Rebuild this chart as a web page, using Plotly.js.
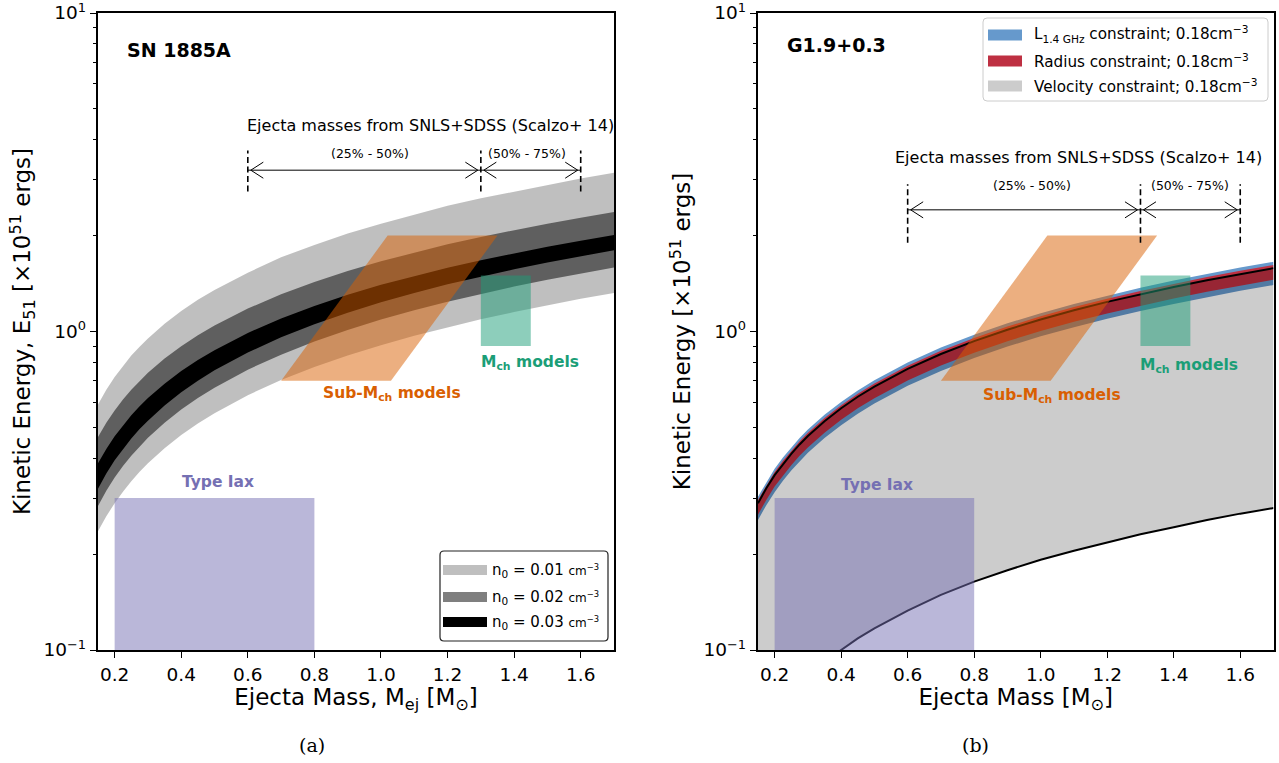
<!DOCTYPE html>
<html><head><meta charset="utf-8">
<script src="https://cdn.plot.ly/plotly-3.0.1.min.js"></script>
<style>html,body{margin:0;padding:0;background:#fff}</style>
</head><body>
<div id="chart" style="width:1279px;height:763px"></div>
<script>
// ---------- data ----------
const mass = [0.15,0.175,0.2,0.225,0.25,0.275,0.3,0.35,0.4,0.45,0.5,0.6,0.7,0.8,0.9,1.0,1.1,1.2,1.3,1.4,1.5,1.6,1.7];

// (a) SN 1885A energy bands for three ambient densities
const n001Upper = [0.59,0.656,0.72,0.780,0.84,0.896,0.95,1.058,1.16,1.258,1.35,1.53,1.71,1.87,2.03,2.18,2.33,2.48,2.62,2.75,2.89,3.02,3.15];
const n001Lower = [0.236,0.263,0.289,0.314,0.339,0.3625,0.386,0.430,0.473,0.514,0.554,0.631,0.704,0.774,0.841,0.906,0.970,1.032,1.092,1.151,1.209,1.266,1.321];
const n002Upper = [0.466,0.517,0.565,0.612,0.656,0.700,0.742,0.823,0.899,0.973,1.044,1.180,1.309,1.431,1.548,1.662,1.771,1.878,1.981,2.082,2.181,2.277,2.371];
const n002Lower = [0.283,0.316,0.348,0.378,0.407,0.436,0.464,0.517,0.569,0.618,0.666,0.759,0.846,0.930,1.011,1.090,1.166,1.240,1.313,1.384,1.453,1.521,1.589];
const n003Upper = [0.386,0.428,0.469,0.508,0.546,0.582,0.618,0.686,0.751,0.814,0.874,0.990,1.099,1.203,1.304,1.401,1.494,1.586,1.674,1.760,1.845,1.928,2.009];
const n003Lower = [0.321,0.358,0.394,0.428,0.461,0.494,0.525,0.586,0.644,0.701,0.755,0.859,0.959,1.054,1.146,1.235,1.322,1.406,1.488,1.568,1.647,1.724,1.800];

// (b) G1.9+0.3 constraints
const fitLine  = [0.289,0.322,0.354,0.384,0.413,0.442,0.470,0.523,0.574,0.624,0.671,0.763,0.850,0.933,1.013,1.091,1.166,1.239,1.310,1.380,1.449,1.516,1.581];
const lumUpper = [0.303,0.337,0.371,0.402,0.432,0.463,0.492,0.548,0.601,0.653,0.703,0.799,0.890,0.977,1.061,1.142,1.221,1.297,1.372,1.445,1.517,1.587,1.655];
const lumLower = [0.256,0.285,0.313,0.340,0.366,0.391,0.416,0.463,0.508,0.552,0.594,0.675,0.752,0.826,0.897,0.966,1.032,1.097,1.159,1.221,1.282,1.342,1.399];
const radUpper = [0.296,0.329,0.362,0.393,0.423,0.452,0.481,0.535,0.587,0.638,0.687,0.781,0.870,0.954,1.036,1.116,1.193,1.268,1.340,1.412,1.482,1.551,1.617];
const radLower = [0.266,0.296,0.326,0.353,0.380,0.407,0.432,0.481,0.528,0.574,0.617,0.702,0.782,0.858,0.932,1.004,1.073,1.140,1.205,1.270,1.333,1.395,1.455];
const velUpper = fitLine;
const velLower = [0.0498,0.0556,0.0611,0.0665,0.0716,0.0766,0.0815,0.0910,0.100,0.1087,0.117,0.133,0.149,0.164,0.178,0.192,0.205,0.218,0.231,0.243,0.256,0.268,0.279];

// model regions
const subMchMass   = [0.70,1.03,1.35,1.02,0.70];
const subMchEnergy = [0.70,0.70,2.00,2.00,0.70];
const mchMass      = [1.30,1.45,1.45,1.30,1.30];
const mchEnergy    = [0.90,0.90,1.50,1.50,0.90];
const iaxMass      = [0.20,0.80,0.80,0.20,0.20];
const iaxEnergy    = [0.05,0.05,0.30,0.30,0.05];

// Scalzo+14 ejecta mass quartiles
const scalzoMass = [0.6,1.3,1.6];
const scalzoLabels = ['(25% - 50%)','(50% - 75%)'];

const xTicks = [0.2,0.4,0.6,0.8,1.0,1.2,1.4,1.6];
const xTickText = ['0.2','0.4','0.6','0.8','1.0','1.2','1.4','1.6'];
const yTicks = [0.1,1,10];
const yTickText = ['10<sup>−1</sup>','10<sup>0</sup>','10<sup>1</sup>'];
const yMinor = [0.2,0.3,0.4,0.5,0.6,0.7,0.8,0.9,2,3,4,5,6,7,8,9];

const leftLegend = ['n<sub>0</sub> = 0.01 ','n<sub>0</sub> = 0.02 ','n<sub>0</sub> = 0.03 '];
const rightLegend = ['L<sub>1.4 GHz</sub> constraint; 0.18cm<sup>−3</sup>','Radius constraint; 0.18cm<sup>−3</sup>','Velocity constraint; 0.18cm<sup>−3</sup>'];

// ---------- styling ----------
const W = 1279, H = 763;
const FONT = 'DejaVu Sans';
const SERIF = 'DejaVu Serif';
const cLight = 'rgba(0,0,0,0.25)', cDark = 'rgba(0,0,0,0.5)', cBlack = 'rgb(0,0,0)';
const cBlue = 'rgb(102,153,204)', cRed = 'rgb(190,48,66)', cVel = 'rgba(0,0,0,0.2)';
const cOrange = 'rgba(217,95,2,0.5)', cGreen = 'rgba(27,158,119,0.5)', cPurple = 'rgba(117,112,179,0.5)';

function band(xs, up, lo){ return {x: xs.concat(xs.slice().reverse()), y: up.concat(lo.slice().reverse())}; }
function poly(xs, ys, color, xa, ya){ return {type:'scatter', mode:'lines', x:xs, y:ys, fill:'toself', fillcolor:color, line:{width:0}, hoverinfo:'skip', showlegend:false, xaxis:xa, yaxis:ya}; }
function bandTrace(up, lo, color, xa, ya){ const b = band(mass, up, lo); return poly(b.x, b.y, color, xa, ya); }
function dashTrace(lo, hi, xa, ya){
  const xs=[], ys=[];
  scalzoMass.forEach(m=>{ xs.push(m,m,null); ys.push(lo,hi,null); });
  return {type:'scatter', mode:'lines', x:xs, y:ys, line:{color:'black', width:1.6, dash:'6px,3.5px'}, hoverinfo:'skip', showlegend:false, xaxis:xa, yaxis:ya};
}
function shaftTrace(y, xa, ya){
  return {type:'scatter', mode:'lines', x:[scalzoMass[0], scalzoMass[2]], y:[y,y], line:{color:'black', width:1}, hoverinfo:'skip', showlegend:false, xaxis:xa, yaxis:ya};
}

const arrowLeftY = 3.21, arrowRightY = 2.41;
const traces = [
  bandTrace(n001Upper, n001Lower, cLight, 'x', 'y'),
  bandTrace(n002Upper, n002Lower, cDark, 'x', 'y'),
  bandTrace(n003Upper, n003Lower, cBlack, 'x', 'y'),
  poly(subMchMass, subMchEnergy, cOrange, 'x', 'y'),
  poly(mchMass, mchEnergy, cGreen, 'x', 'y'),
  poly(iaxMass, iaxEnergy, cPurple, 'x', 'y'),
  dashTrace(2.75, 3.7, 'x', 'y'),
  shaftTrace(arrowLeftY, 'x', 'y'),

  bandTrace(lumUpper, lumLower, cBlue, 'x2', 'y2'),
  bandTrace(radUpper, radLower, cRed, 'x2', 'y2'),
  bandTrace(velUpper, velLower, cVel, 'x2', 'y2'),
  {type:'scatter', mode:'lines', x:mass, y:fitLine, line:{color:'black', width:2}, hoverinfo:'skip', showlegend:false, xaxis:'x2', yaxis:'y2'},
  {type:'scatter', mode:'lines', x:mass, y:velLower, line:{color:'black', width:2}, hoverinfo:'skip', showlegend:false, xaxis:'x2', yaxis:'y2'},
  poly(subMchMass, subMchEnergy, cOrange, 'x2', 'y2'),
  poly(mchMass, mchEnergy, cGreen, 'x2', 'y2'),
  poly(iaxMass, iaxEnergy, cPurple, 'x2', 'y2'),
  dashTrace(1.9, 2.9, 'x2', 'y2'),
  shaftTrace(arrowRightY, 'x2', 'y2')
];

function xAxis(domain, anchor, title){
  return {domain:domain, anchor:anchor, range:[0.15,1.7], showline:true, mirror:true, linecolor:'black', linewidth:1.6,
    ticks:'outside', ticklen:6.5, tickwidth:1.4, tickcolor:'black', tickmode:'array', tickvals:xTicks, ticktext:xTickText,
    ticklabeloverflow:'allow',
    tickfont:{family:FONT, size:18.5, color:'black'}, showgrid:false, zeroline:false,
    title:{text:title, font:{family:FONT, size:23, color:'black'}, standoff:0}};
}
function yAxis(domain, anchor, title){
  return {domain:domain, anchor:anchor, type:'log', range:[-1,1], showline:true, mirror:true, linecolor:'black', linewidth:1.6,
    ticks:'outside', ticklen:6.5, tickwidth:1.4, tickcolor:'black', tickmode:'array', tickvals:yTicks, ticktext:yTickText,
    ticklabeloverflow:'allow',
    minor:{tickmode:'array', tickvals:yMinor, ticks:'outside', ticklen:3.7, tickwidth:1.1, tickcolor:'black', showgrid:false},
    tickfont:{family:FONT, size:18.5, color:'black'}, showgrid:false, zeroline:false,
    title:{text:title, font:{family:FONT, size:23, color:'black'}, standoff:6}};
}

function px(x){ return x / W; }
function py(y){ return 1 - y / H; }
function roundRect(x0, y0, x1, y1, r){ // pixel coords (top-left origin)
  const X0=px(x0), X1=px(x1), Y0=py(y1), Y1=py(y0), rx=r/W, ry=r/H;
  return `M${X0+rx},${Y0} L${X1-rx},${Y0} Q${X1},${Y0} ${X1},${Y0+ry} L${X1},${Y1-ry} Q${X1},${Y1} ${X1-rx},${Y1} L${X0+rx},${Y1} Q${X0},${Y1} ${X0},${Y1-ry} L${X0},${Y0+ry} Q${X0},${Y0} ${X0+rx},${Y0} Z`;
}
function swatch(x0, x1, yc, h, color){
  return {type:'rect', xref:'paper', yref:'paper', x0:px(x0), x1:px(x1), y0:py(yc+h/2), y1:py(yc-h/2), fillcolor:color, line:{width:0}, layer:'above'};
}

const shapes = [
  {type:'path', xref:'paper', yref:'paper', path:roundRect(440,551,608,641,4), fillcolor:'rgba(255,255,255,0.9)', line:{color:'#222', width:1.2}, layer:'above'},
  swatch(443,487,570,10,cLight), swatch(443,487,597,10,cDark), swatch(443,487,622,10,cBlack),
  {type:'path', xref:'paper', yref:'paper', path:roundRect(983,18,1268,101,4), fillcolor:'rgba(255,255,255,0.85)', line:{color:'#cccccc', width:1}, layer:'above'},
  swatch(988,1022,35,11,cBlue), swatch(988,1022,61,11,cRed), swatch(988,1022,86,11,cVel)
];

const L = Math.log10;
function txt(xa, ya, x, y, text, size, color, bold){
  return {xref:xa, yref:ya, x:x, y:L(y), text: bold ? '<b>'+text+'</b>' : text, showarrow:false,
    font:{family:FONT, size:size, color:color}, xanchor:'center', yanchor:'middle'};
}
// open arrow-head strokes: tip at (m, y), stroke going back by 14 px and up/down 9 px
function headStroke(xa, ya, m, y, dir, up){
  return {xref:xa, yref:ya, x:m, y:L(y), xshift:3*dir, ax:14*dir, ay:up?-9:9, text:'', showarrow:true,
    arrowhead:0, arrowwidth:1, arrowcolor:'black', standoff:0, startstandoff:0};
}
function heads(xa, ya, y){
  const out = [];
  [[scalzoMass[0], 1], [scalzoMass[1], -1], [scalzoMass[1], 1], [scalzoMass[2], -1]].forEach(([m, dir])=>{
    out.push(headStroke(xa, ya, m, y, dir, true), headStroke(xa, ya, m, y, dir, false));
  });
  return out;
}
function paperTxt(x, y, text, size, anchor, family){
  return {xref:'paper', yref:'paper', x:px(x), y:py(y), text:text, showarrow:false, xanchor:anchor, yanchor:'middle',
    font:{family:family||FONT, size:size, color:'black'}};
}

const cmSpan = "<span style='font-size:12px'>cm<sup>−3</sup></span>";
const annotations = [
  paperTxt(125, 50, '<b>SN 1885A</b>', 19, 'left'),
  paperTxt(785, 45, '<b>G1.9+0.3</b>', 19, 'left'),
  txt('x','y', 1.148, 4.42, 'Ejecta masses from SNLS+SDSS (Scalzo+ 14)', 16, 'black', false),
  txt('x','y', 0.968, 3.63, scalzoLabels[0], 12.5, 'black', false),
  txt('x','y', 1.44, 3.63, scalzoLabels[1], 12.5, 'black', false),
  txt('x','y', 1.034, 0.637, 'Sub-M<sub>ch</sub> models', 15.5, '#d95f02', true),
  txt('x','y', 1.447, 0.796, 'M<sub>ch</sub> models', 15.5, '#1b9e77', true),
  txt('x','y', 0.51, 0.337, 'Type Iax', 15.5, '#7570b3', true),

  txt('x2','y2', 1.113, 3.53, 'Ejecta masses from SNLS+SDSS (Scalzo+ 14)', 16, 'black', false),
  txt('x2','y2', 0.974, 2.88, scalzoLabels[0], 12.5, 'black', false),
  txt('x2','y2', 1.45, 2.88, scalzoLabels[1], 12.5, 'black', false),
  txt('x2','y2', 1.034, 0.627, 'Sub-M<sub>ch</sub> models', 15.5, '#d95f02', true),
  txt('x2','y2', 1.447, 0.78, 'M<sub>ch</sub> models', 15.5, '#1b9e77', true),
  txt('x2','y2', 0.507, 0.33, 'Type Iax', 15.5, '#7570b3', true),

  paperTxt(490, 570, leftLegend[0]+cmSpan, 15, 'left'),
  paperTxt(490, 597, leftLegend[1]+cmSpan, 15, 'left'),
  paperTxt(490, 622, leftLegend[2]+cmSpan, 15, 'left'),
  paperTxt(1032, 35, rightLegend[0], 15.2, 'left'),
  paperTxt(1032, 61, rightLegend[1], 15.2, 'left'),
  paperTxt(1032, 86, rightLegend[2], 15.2, 'left'),

  paperTxt(312, 745, '(a)', 19, 'center', SERIF),
  paperTxt(975, 745, '(b)', 19, 'center', SERIF)
].concat(heads('x','y', arrowLeftY), heads('x2','y2', arrowRightY));

const yDom = [1-650/H, 1-13/H];
const layout = {
  width:W, height:H, margin:{l:0, r:0, t:0, b:0}, paper_bgcolor:'white', plot_bgcolor:'white',
  font:{family:FONT, color:'black'}, showlegend:false,
  xaxis: xAxis([98/W, 614/W], 'y', 'Ejecta Mass, M<sub>ej</sub> [M<sub>⊙</sub>]'),
  yaxis: yAxis(yDom, 'x', 'Kinetic Energy, E<sub>51</sub> [×10<sup>51</sup> ergs]'),
  xaxis2: xAxis([758/W, 1273.5/W], 'y2', 'Ejecta Mass [M<sub>⊙</sub>]'),
  yaxis2: yAxis(yDom, 'x2', 'Kinetic Energy [×10<sup>51</sup> ergs]'),
  shapes: shapes, annotations: annotations
};

Plotly.newPlot('chart', traces, layout, {displayModeBar:false});
</script>
</body></html>
